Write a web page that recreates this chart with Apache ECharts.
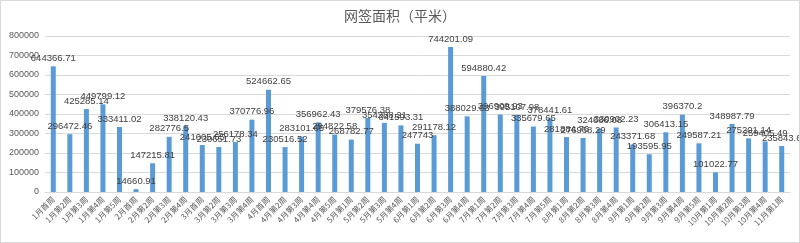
<!DOCTYPE html>
<html>
<head>
<meta charset="utf-8">
<script src="https://cdn.jsdelivr.net/npm/echarts@6/dist/echarts.min.js"></script>
<style>
  html, body { margin: 0; padding: 0; background: #fff; }
  #main { width: 798px; height: 241px; border: 1px solid #d9d9d9; }
</style>
</head>
<body>
<div id="main"></div>
<script>
const weeks = [
  '1月首周', '1月第2周', '1月第3周', '1月第4周', '1月第5周',
  '2月首周', '2月第2周', '2月第3周', '2月第4周',
  '3月首周', '3月第2周', '3月第3周', '3月第4周',
  '4月首周', '4月第2周', '4月第3周', '4月第4周', '4月第5周',
  '5月第1周', '5月第2周', '5月第3周', '5月第4周',
  '6月第1周', '6月第2周', '6月第3周', '6月第4周',
  '7月第1周', '7月第2周', '7月第3周', '7月第4周', '7月第5周',
  '8月第1周', '8月第2周', '8月第3周', '8月第4周',
  '9月第1周', '9月第2周', '9月第3周', '9月第4周', '9月第5周',
  '10月第1周', '10月第2周', '10月第3周', '10月第4周', '11月第1周'
];
const area = [
  644366.71, 296472.46, 425285.14, 449799.12, 333411.02,
  14660.91, 147215.81, 282776.5, 338120.43,
  241005.65, 230651.73, 256178.34, 370776.96,
  524662.65, 230516.52, 283101.65, 356962.43, 294822.58,
  268782.77, 379576.38, 354288.21, 341593.31,
  247743, 291178.12, 744201.09, 388029.63,
  594880.42, 396909.93, 395107.98, 335679.65, 378441.61,
  281884.76, 276968.29, 324686.08, 330902.23,
  243371.68, 193595.95, 306413.15, 396370.2, 249587.21,
  101022.77, 348987.79, 275201.14, 259405.49, 235843.6
];
const yTicks = [0, 100000, 200000, 300000, 400000, 500000, 600000, 700000, 800000];

const chart = echarts.init(document.getElementById('main'));
chart.setOption({
  animation: false,
  title: {
    text: '网签面积（平米）',
    left: 'center',
    top: 3,
    textStyle: {
      color: '#595959',
      fontSize: 14,
      fontWeight: 'normal',
      fontFamily: 'Noto Sans CJK SC'
    }
  },
  grid: {
    left: 44,
    right: 9,
    top: 35,
    bottom: 50
  },
  xAxis: {
    type: 'category',
    data: weeks,
    axisTick: { show: false },
    axisLine: { lineStyle: { color: '#d9d9d9' } },
    axisLabel: {
      interval: 0,
      rotate: 45,
      color: '#595959',
      fontSize: 8,
      margin: 6,
      fontFamily: 'Noto Sans CJK SC'
    }
  },
  yAxis: {
    type: 'value',
    min: yTicks[0],
    max: yTicks[yTicks.length - 1],
    interval: 100000,
    axisLine: { show: false },
    axisTick: { show: false },
    splitLine: { lineStyle: { color: '#d9d9d9' } },
    axisLabel: {
      color: '#595959',
      fontSize: 9,
      margin: 6,
      fontFamily: 'Liberation Sans',
      formatter: v => String(v)
    }
  },
  series: [{
    name: '网签面积',
    type: 'bar',
    data: area,
    barWidth: 5,
    itemStyle: { color: '#5b9bd5' },
    label: {
      show: true,
      position: 'top',
      distance: 3,
      color: '#404040',
      fontSize: 9.5,
      fontFamily: 'Liberation Sans'
    }
  }]
});
</script>
</body>
</html>
